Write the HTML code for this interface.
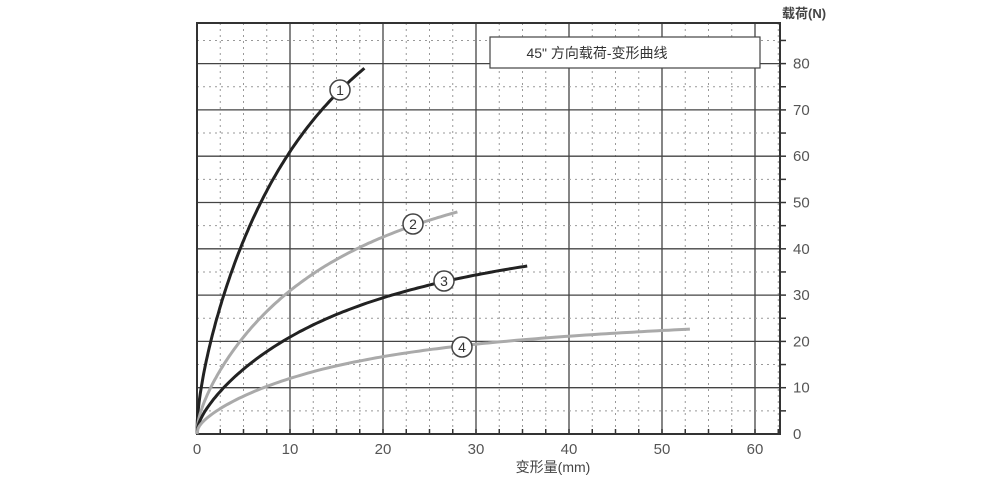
<!DOCTYPE html>
<html><head><meta charset="utf-8"><style>
body{margin:0;background:#fff;}
svg{display:block;font-family:"Liberation Sans","Noto Sans CJK SC",sans-serif;}
</style></head><body>
<svg id="s" width="1000" height="480" viewBox="0 0 1000 480">
<g id="grid"></g>
<rect x="197" y="23" width="583" height="411" fill="none" stroke="#333" stroke-width="2"/>
<rect x="490" y="37" width="270" height="31" fill="#fff" stroke="#444" stroke-width="1.2"/>
<text x="597" y="58" font-size="14" text-anchor="middle" fill="#333">45" 方向载荷-变形曲线</text>
<g id="curves"></g>
<g id="labels" font-size="15" fill="#555"></g>
<text x="782" y="18" font-size="13" fill="#444" font-weight="bold">载荷(N)</text>
<text x="553" y="472" font-size="14" fill="#444" text-anchor="middle">变形量(mm)</text>
</svg>
<script>
var NS="http://www.w3.org/2000/svg";
function X(v){return 197+v*9.3;}function Y(v){return 434-v*4.63;}
function el(p,t,a,txt){var e=document.createElementNS(NS,t);for(var k in a)e.setAttribute(k,a[k]);if(txt)e.textContent=txt;p.appendChild(e);return e;}
var g=document.getElementById('grid');
for(var v=2.5;v<63;v+=2.5){var x=X(v);var major=Math.abs(v%10)<0.01;
 el(g,'line',{x1:x,y1:23,x2:x,y2:434,stroke:major?'#444':'#999','stroke-width':major?1.3:1,'stroke-dasharray':major?'':'2,4'});
 el(g,'line',{x1:x,y1:434,x2:x,y2:429,stroke:'#333','stroke-width':1.5});}
for(var v=5;v<89;v+=5){var y=Y(v);var major=v%10==0;
 el(g,'line',{x1:197,y1:y,x2:780,y2:y,stroke:major?'#444':'#999','stroke-width':major?1.3:1,'stroke-dasharray':major?'':'2,4'});
 el(g,'line',{x1:780,y1:y,x2:786,y2:y,stroke:'#333','stroke-width':1.5});}
var L=document.getElementById('labels');
for(var v=0;v<=60;v+=10)el(L,'text',{x:X(v),y:454,'text-anchor':'middle'},''+v);
for(var v=0;v<=80;v+=10)el(L,'text',{x:793,y:Y(v)+5},''+v);
var C=document.getElementById('curves');
var cs=[[18,79,0.44,92,9.2,'#222'],[28,48,0.43,52,11,'#aaa'],[35.5,36.3,0.43,38.8,13,'#222'],[53,22.7,0.38,23.1,13.7,'#aaa']];
cs.forEach(function(c){var d='';for(var i=0;i<=120;i++){var x=c[0]*Math.pow(i/120,1.3);
 var y1=c[1]*Math.pow(x/c[0],c[2]);var y2=c[3]*(1-Math.exp(-x/c[4]));var y=0.5*y1+0.5*y2;
 d+=(i?'L':'M')+X(x).toFixed(1)+','+Y(y).toFixed(1);}
 el(C,'path',{d:d,fill:'none',stroke:c[5],'stroke-width':3});});
[[340,90,'1'],[413,224,'2'],[444,281,'3'],[462,347,'4']].forEach(function(p){
 el(C,'circle',{cx:p[0],cy:p[1],r:10,fill:'#fff',stroke:'#444','stroke-width':1.5});
 el(C,'text',{x:p[0],y:p[1]+5,'text-anchor':'middle','font-size':14,fill:'#333'},p[2]);});
</script>
</body></html>
